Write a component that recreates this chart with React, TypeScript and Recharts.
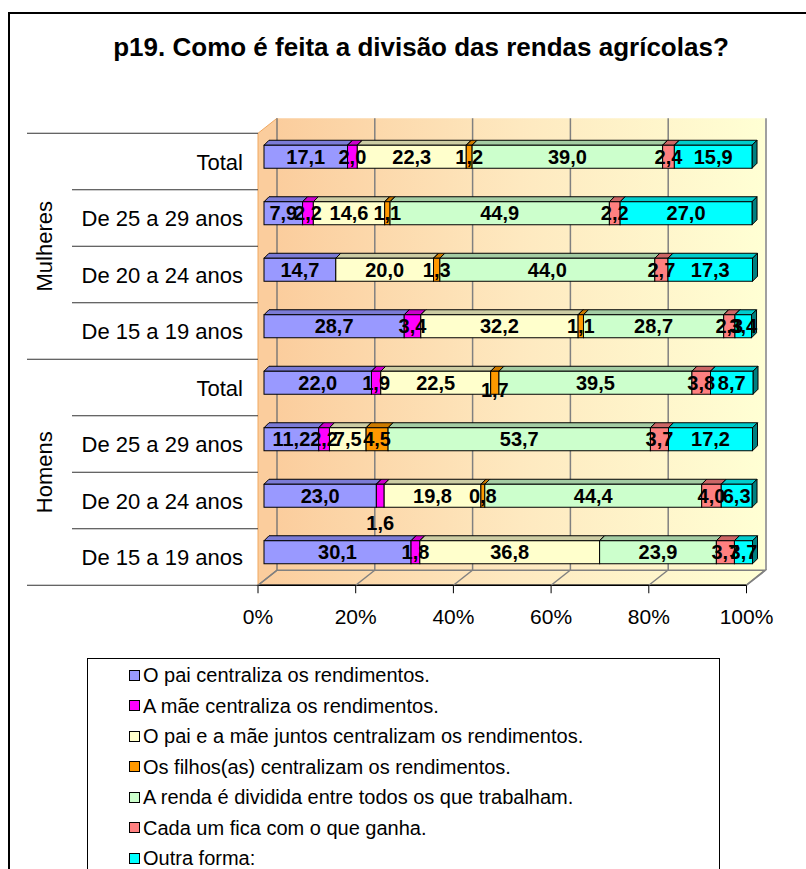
import { Bar, BarChart, CartesianGrid, LabelList, Legend, XAxis, YAxis } from 'recharts'

const groupNames = ['Mulheres', 'Homens']
const ageBands = ['Total', 'De 25 a 29 anos', 'De 20 a 24 anos', 'De 15 a 19 anos']

const paiCentraliza = [17.1, 7.9, 14.7, 28.7, 22.0, 11.2, 23.0, 30.1]
const maeCentraliza = [2.0, 2.2, 0, 3.4, 1.9, 2.2, 1.6, 1.8]
const paiEMaeJuntos = [22.3, 14.6, 20.0, 32.2, 22.5, 7.5, 19.8, 36.8]
const filhosCentralizam = [1.2, 1.1, 1.3, 1.1, 1.7, 4.5, 0.8, 0]
const rendaDividida = [39.0, 44.9, 44.0, 28.7, 39.5, 53.7, 44.4, 23.9]
const cadaUmFica = [2.4, 2.2, 2.7, 2.3, 3.8, 3.7, 4.0, 3.7]
const outraForma = [15.9, 27.0, 17.3, 3.4, 8.7, 17.2, 6.3, 3.7]

const xTicks = [0, 20, 40, 60, 80, 100]

const series = [
  { key: 'pai', name: 'O pai centraliza os rendimentos.', values: paiCentraliza, fill: '#9999FF', top: '#7B7BD6', side: '#4D4D80' },
  { key: 'mae', name: 'A mãe centraliza os rendimentos.', values: maeCentraliza, fill: '#FF00FF', top: '#CC00CC', side: '#800080' },
  { key: 'juntos', name: 'O pai e a mãe juntos centralizam os rendimentos.', values: paiEMaeJuntos, fill: '#FFFFCC', top: '#CCCCA3', side: '#808066' },
  { key: 'filhos', name: 'Os filhos(as) centralizam os rendimentos.', values: filhosCentralizam, fill: '#FF9900', top: '#CC7A00', side: '#804D00' },
  { key: 'todos', name: 'A renda é dividida entre todos os que trabalham.', values: rendaDividida, fill: '#CCFFCC', top: '#A3CCA3', side: '#668066' },
  { key: 'cada', name: 'Cada um fica com o que ganha.', values: cadaUmFica, fill: '#FF8080', top: '#CC6666', side: '#804040' },
  { key: 'outra', name: 'Outra forma:', values: outraForma, fill: '#00FFFF', top: '#00CCCC', side: '#008080' },
]

// rows top to bottom: women first, then men
const data = groupNames.flatMap((g, gi) =>
  ageBands.map((band, bi) => {
    const i = gi * ageBands.length + bi
    const row: Record<string, string | number> = { id: `${g}|${band}` }
    series.forEach((s) => {
      row[s.key] = s.values[i]
    })
    return row
  }),
)

// labels that Excel had moved off their segment
const labelNudge: Record<string, number> = { 'mae-6': 27, 'filhos-4': 7 }

const W = 806
const H = 869
const PLOT_TOP = 128.25
const PLOT_BOTTOM = 580.25
const BAND = (PLOT_BOTTOM - PLOT_TOP) / data.length
const YAXIS_W = 100
const XAXIS_H = 40
// front plane / back wall offsets relative to bar plane
const FX = -6
const FY = 5
const BX = 13
const BY = -10
const DEPTH = 5
const FONT = '"Liberation Sans", Arial, sans-serif'

const make3D = (fill: string, top: string, side: string) => (props: any) => {
  const { x, y, width, height } = props
  if (!width || width <= 0.01) return <g />
  const d = DEPTH
  return (
    <g>
      <polygon
        points={`${x},${y} ${x + d},${y - d} ${x + width + d},${y - d} ${x + width},${y}`}
        fill={top}
        stroke="#000"
        strokeWidth={1}
      />
      <polygon
        points={`${x + width},${y} ${x + width + d},${y - d} ${x + width + d},${y + height - d} ${x + width},${y + height}`}
        fill={side}
        stroke="#000"
        strokeWidth={1}
      />
      <rect x={x} y={y} width={width} height={height} fill={fill} stroke="#000" strokeWidth={1} />
    </g>
  )
}

const makeLabel = (key: string) => (props: any) => {
  const { x, y, width, height, value, index } = props
  if (!value) return null
  const nudge = labelNudge[`${key}-${index}`] ?? 0
  return (
    <text
      x={x + width / 2}
      y={y + height / 2 + 7 + nudge}
      textAnchor="middle"
      fontFamily={FONT}
      fontSize={20}
      fontWeight="bold"
      fill="#000"
    >
      {Number(value).toFixed(1).replace('.', ',')}
    </text>
  )
}

const CategoryTick = (props: any) => {
  const { x, y, payload } = props
  const index = payload.index ?? props.index
  const [group, band] = String(payload.value).split('|')
  const rowTop = y + FY - BAND / 2
  const groupStart = index % ageBands.length === 0
  const lineStart = groupStart ? 27 : 72
  return (
    <g>
      <line x1={lineStart} y1={rowTop} x2={x + FX} y2={rowTop} stroke="#333" strokeWidth={1} />
      {index === data.length - 1 && (
        <line x1={27} y1={rowTop + BAND} x2={x + FX} y2={rowTop + BAND} stroke="#333" strokeWidth={1} />
      )}
      <text x={x - 21} y={y + FY + 8} textAnchor="end" fontFamily={FONT} fontSize={22} fill="#000">
        {band}
      </text>
      {groupStart && (
        <text
          x={0}
          y={0}
          transform={`translate(52, ${rowTop + (BAND * ageBands.length) / 2}) rotate(-90)`}
          textAnchor="middle"
          fontFamily={FONT}
          fontSize={22}
          fill="#000"
        >
          {group}
        </text>
      )}
    </g>
  )
}

const PercentTick = (props: any) => {
  const { x, y, payload } = props
  return (
    <g>
      <line x1={x + FX} y1={y + FY} x2={x + BX} y2={y + BY} stroke="#808080" strokeWidth={1.5} />
      <line x1={x + FX} y1={y + FY} x2={x + FX} y2={y + FY + 8} stroke="#000" strokeWidth={1} />
      <text x={x + FX} y={y + 44} textAnchor="middle" fontFamily={FONT} fontSize={21} fill="#000">
        {payload.value}%
      </text>
    </g>
  )
}

const LegendBox = () => (
  <div
    style={{
      boxSizing: 'border-box',
      width: 633,
      height: 240,
      border: '1px solid #000',
      background: '#fff',
      paddingTop: 1,
      paddingLeft: 41,
      fontFamily: FONT,
      fontSize: 20,
      color: '#000',
    }}
  >
    {series.map((s) => (
      <div key={s.key} style={{ height: 30.5, lineHeight: '30.5px', display: 'flex', alignItems: 'center' }}>
        <span
          style={{
            display: 'inline-block',
            width: 9,
            height: 9,
            border: '1px solid #000',
            background: s.fill,
            marginRight: 3,
          }}
        />
        <span>{s.name}</span>
      </div>
    ))}
  </div>
)

// back-wall gridlines sit behind the bars, shifted into the back plane
const backWallLines = ({ xAxis, offset }: any) => {
  if (xAxis && typeof xAxis.scale === 'function') return xTicks.map((t) => xAxis.scale(t) + BX)
  const [d0, d1] = [0, 100]
  return xTicks.map((t) => offset.left + ((t - d0) / (d1 - d0)) * offset.width + BX)
}

const Walls = () => (
  <svg width={W} height={H} style={{ position: 'absolute', left: 0, top: 0 }}>
    <defs>
      <linearGradient id="wallGrad" x1="0" y1="0" x2="1" y2="0">
        <stop offset="0" stopColor="#FBCD9D" />
        <stop offset="0.5" stopColor="#FEE9C0" />
        <stop offset="1" stopColor="#FFFFD4" />
      </linearGradient>
    </defs>
    <rect x={0} y={0} width={W} height={H} fill="#fff" />
    <polyline points={`9,${H} 9,13 ${W},13`} fill="none" stroke="#000" strokeWidth={2} />
    <text x={421} y={56} textAnchor="middle" fontFamily={FONT} fontSize={26} fontWeight="bold" fill="#000">
      p19. Como é feita a divisão das rendas agrícolas?
    </text>
    {/* back wall */}
    <rect x={277} y={118.25} width={488} height={452} fill="url(#wallGrad)" />
    {/* left wall */}
    <polygon points="258,133.25 277,118.25 277,570.25 258,585.25" fill="#FBCD9D" stroke="#F0A860" strokeWidth={1} />
    {/* floor */}
    <polygon points="258,585.25 277,570.25 765,570.25 746,585.25" fill="url(#wallGrad)" stroke="#808080" strokeWidth={1.5} />
    <line x1={258} y1={585.25} x2={746} y2={585.25} stroke="#000" strokeWidth={1.5} />
  </svg>
)

export default function App() {
  return (
    <div style={{ position: 'absolute', left: 0, top: 0, width: W, height: H, overflow: 'hidden' }}>
      <Walls />
      <div style={{ position: 'absolute', left: 0, top: 0 }}>
        <BarChart
          width={W}
          height={H}
          data={data}
          layout="vertical"
          barSize={23}
          margin={{ top: PLOT_TOP, right: 53, bottom: H - PLOT_BOTTOM - XAXIS_H, left: 264 - YAXIS_W }}
        >
          <CartesianGrid
            horizontal={false}
            y={PLOT_TOP + BY}
            height={PLOT_BOTTOM - PLOT_TOP}
            stroke="#808080"
            strokeWidth={1.5}
            verticalCoordinatesGenerator={backWallLines}
          />
          <XAxis
            type="number"
            domain={[0, 100]}
            ticks={xTicks}
            height={XAXIS_H}
            axisLine={false}
            tickLine={false}
            tickSize={0}
            tickMargin={0}
            tick={<PercentTick />}
            interval={0}
          />
          <YAxis
            type="category"
            dataKey="id"
            width={YAXIS_W}
            axisLine={false}
            tickLine={false}
            tickSize={0}
            tickMargin={0}
            tick={<CategoryTick />}
            interval={0}
          />
          <Legend
            layout="vertical"
            align="center"
            verticalAlign="middle"
            wrapperStyle={{ left: 87, top: 658, width: 633 }}
            content={<LegendBox />}
          />
          {series.map((s) => (
            <Bar
              key={s.key}
              dataKey={s.key}
              name={s.name}
              stackId="total"
              fill={s.fill}
              legendType="square"
              shape={make3D(s.fill, s.top, s.side)}
              isAnimationActive={false}
            >
              <LabelList dataKey={s.key} content={makeLabel(s.key)} />
            </Bar>
          ))}
        </BarChart>
      </div>
    </div>
  )
}
